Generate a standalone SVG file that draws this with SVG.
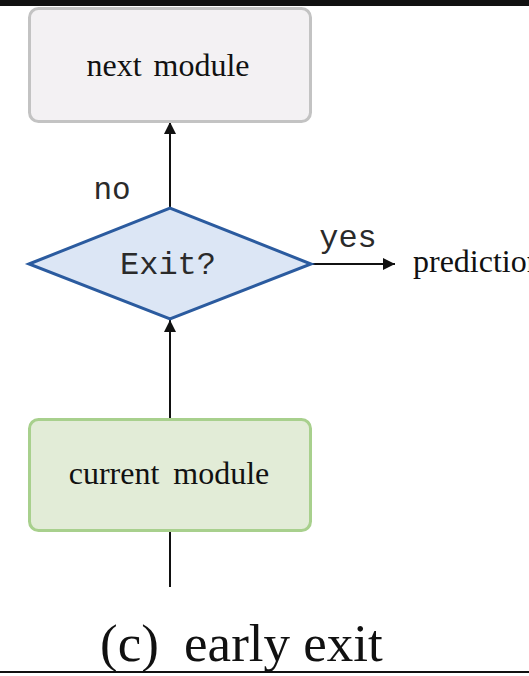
<svg xmlns="http://www.w3.org/2000/svg" width="529" height="676" viewBox="0 0 529 676">
<defs>
<style>
.serif{font-family:"Liberation Serif","Times New Roman",serif;fill:#111}
.mono{font-family:"Liberation Mono","Courier New",monospace;fill:#2a2a2a}
.conn{stroke:#111;stroke-width:2;fill:none}
</style>
<marker id="ah" viewBox="0 0 10 10" refX="10" refY="5" markerWidth="12" markerHeight="12" markerUnits="userSpaceOnUse" orient="auto">
<path d="M0,0 L10,5 L0,10 z" fill="#111"/>
</marker>
</defs>
<rect x="0" y="0" width="529" height="676" fill="#fff"/>
<rect x="0" y="0" width="529" height="6" fill="#111"/>
<rect x="0" y="671" width="529" height="2" fill="#111"/>
<g id="connectors">
<line class="conn" x1="170" y1="208" x2="170" y2="122" marker-end="url(#ah)"/>
<line class="conn" x1="311" y1="264" x2="395" y2="264" marker-end="url(#ah)"/>
<line class="conn" x1="170" y1="419" x2="170" y2="320" marker-end="url(#ah)"/>
<line class="conn" x1="170" y1="531" x2="170" y2="587"/>
</g>
<g id="next-module">
<rect x="29.5" y="8.5" width="281" height="113" rx="9" fill="#f3f1f3" stroke="#c3c3c3" stroke-width="3"/>
<text class="serif" x="168" y="76" font-size="32" text-anchor="middle" word-spacing="4">next module</text>
</g>
<g id="exit-decision">
<polygon points="29,264 170,208 311,264 170,319" fill="#dce6f5" stroke="#2b5b9f" stroke-width="3"/>
<text class="mono" x="168" y="274" font-size="32" text-anchor="middle">Exit?</text>
</g>
<g id="labels">
<text class="mono" x="112" y="199" font-size="31" text-anchor="middle">no</text>
<text class="mono" x="348" y="247" font-size="32" text-anchor="middle">yes</text>
<text class="serif" x="413" y="272" font-size="32">prediction</text>
</g>
<g id="current-module">
<rect x="29.5" y="419.5" width="281" height="111" rx="9" fill="#e2ecd7" stroke="#a8d08d" stroke-width="3"/>
<text class="serif" x="169" y="484" font-size="32" text-anchor="middle" word-spacing="6">current module</text>
</g>
<text class="serif" x="100" y="661" font-size="53">(c)<tspan dx="12"> early exit</tspan></text>
</svg>
